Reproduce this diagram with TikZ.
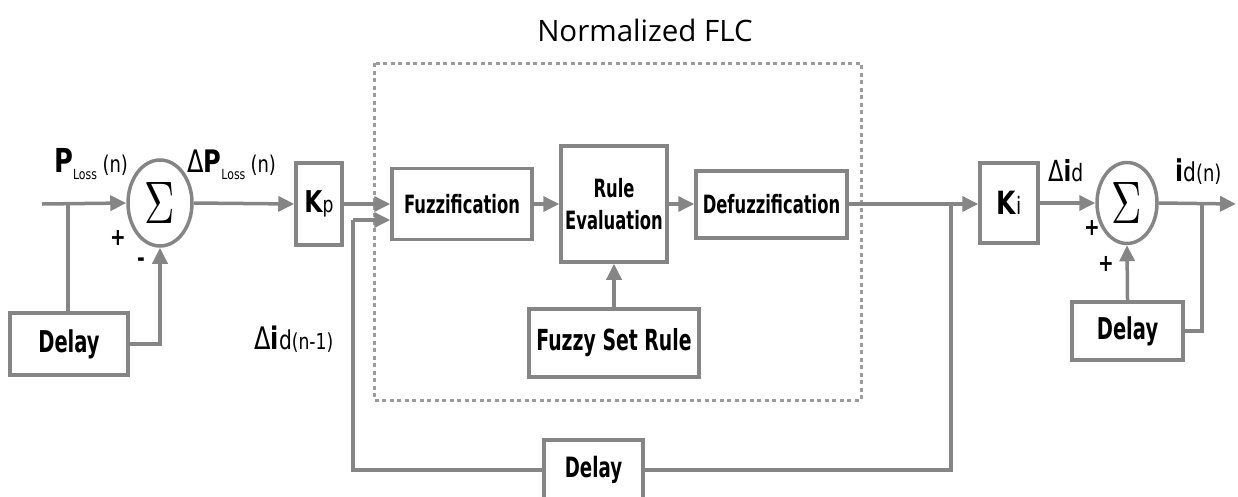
\documentclass[tikz,border=0pt]{standalone}
\usepackage{fontspec}
\setmainfont{DejaVu Sans}[FakeStretch=0.65]
\newfontfamily\lblfont{DejaVu Sans}[FakeStretch=0.78]
\newfontfamily\flcfont{Open Sans}
\usetikzlibrary{shapes.geometric,arrows.meta,calc}
\definecolor{gr}{HTML}{858585}
\definecolor{dotc}{HTML}{9C9C9C}
\newcommand{\fs}[1]{\fontsize{#1}{#1}\selectfont}
\newcommand{\bigsig}{\scalebox{4.2}[6]{$\Sigma$}}
\tikzset{
  ln/.style={draw=gr, line width=3.5pt},
  arr/.style={ln, -{Triangle[length=16pt,width=15pt]}},
  blk/.style={draw=gr, line width=3.5pt, fill=white, inner sep=0pt, align=center, font=\fs{25.2}\bfseries},
  sig/.style={ellipse, draw=gr, line width=3.5pt, fill=white, inner sep=0pt},
  lbl/.style={inner sep=0pt, text=black},
}
\begin{document}
\begin{tikzpicture}[x=1pt,y=-1pt]
\useasboundingbox (0,0) rectangle (1238,496);
\clip (0,0) rectangle (1238,496);
% dotted FLC frame
\draw[dotc, line width=3pt, dash pattern=on 4pt off 3.5pt] (374,63) rectangle (861,400);
\node[lbl, font=\flcfont\fs{29.5}] (flc) at (645,30) {Normalized FLC};
% blocks
\node[blk, minimum width=118pt, minimum height=62pt, font=\fs{30}\bfseries] (d1) at (69,344) {Delay};
\node[sig, minimum width=64pt, minimum height=86pt] (s1) at (160,203) {\bigsig};
\node[blk, minimum width=46pt, minimum height=82pt] (kp) at (319,204) {\lblfont\fs{30}K\fs{22}\mdseries p};
\node[blk, minimum width=140pt, minimum height=71pt] (fz) at (462,204) {Fuzzification};
\node[blk, minimum width=106pt, minimum height=116pt] (re) at (614,204) {Rule\\[6pt]Evaluation};
\node[blk, minimum width=151pt, minimum height=67pt] (df) at (771.5,204.5) {Defuzzification};
\node[blk, minimum width=170pt, minimum height=68pt, font=\fs{29}\bfseries] (fsr) at (614,343) {Fuzzy Set Rule};
\node[blk, minimum width=58pt, minimum height=80pt] (ki) at (1009,203) {\lblfont\fs{32}K\fs{24}\mdseries i};
\node[sig, minimum width=60pt, minimum height=81pt] (s2) at (1127,203) {\bigsig};
\node[blk, minimum width=111pt, minimum height=58pt, font=\fs{30}\bfseries] (d2) at (1127.5,331) {Delay};
\node[blk, minimum width=99pt, minimum height=60pt, font=\fs{28}\bfseries] (d3) at (593.5,470) {Delay};
% coordinates
\coordinate (in) at (42,204);
\coordinate (j1) at (68,204);
\coordinate (fbc) at (353,220);
\coordinate (j2) at (951,204);
\coordinate (j3) at (1202,204);
\coordinate (out) at (1236,204);
% connectors
\draw[arr] (in) -- (s1.west);
\draw[ln] (j1) -- (j1 |- d1.north);
\draw[arr] (d1.east) -| (s1.south);
\draw[arr] (s1.east) -- (kp.west);
\draw[arr] (kp.east) -- (fz.west);
\draw[arr] (fz.east) -- (re.west);
\draw[arr] (re.east) -- (df.west |- re.east);
\draw[arr] (fsr.north) -- (re.south);
\draw[arr] (df.east |- j2) -- (ki.west |- j2);
\draw[ln] (j2) |- (d3.east);
\draw[ln] (d3.west) -| (fbc);
\draw[arr] (fbc) -- (fbc -| fz.west);
\draw[arr] (ki.east |- s2.west) -- (s2.west);
\draw[arr] (s2.east) -- (out);
\draw[ln] (j3) |- (d2.east);
\draw[arr] (d2.north) -- (s2.south);
% labels
\node[lbl, anchor=base west, font=\lblfont] (pl) at (54,172) {\fs{33}\bfseries P\raisebox{-7pt}{\fs{14}\mdseries Loss}\,\fs{23}\mdseries(n)};
\node[lbl, anchor=base west, font=\lblfont] (dpl) at (187,172) {\fs{31}Δ\bfseries P\raisebox{-7pt}{\fs{14}\mdseries Loss}\,\fs{23}\mdseries(n)};
\node[lbl, font=\lblfont\fs{24}\bfseries] (p1) at (118,238) {+};
\node[lbl, font=\lblfont\fs{24}\bfseries] (m1) at (141,262) {-};
\node[lbl, anchor=base west, font=\lblfont] (did1) at (254,349) {\fs{31}Δ\bfseries i\mdseries\fs{26}d\fs{22}(n-1)};
\node[lbl, anchor=base west, font=\lblfont] (did) at (1048,181) {\fs{29}Δ\bfseries i\mdseries\fs{24}d};
\node[lbl, anchor=base west, font=\lblfont] (idn) at (1175,181) {\fs{30}\bfseries i\mdseries\fs{26}d\fs{23}(n)};
\node[lbl, font=\lblfont\fs{24}\bfseries] (p2) at (1092,228) {+};
\node[lbl, font=\lblfont\fs{24}\bfseries] (p3) at (1106,264) {+};
\end{tikzpicture}
\end{document}
